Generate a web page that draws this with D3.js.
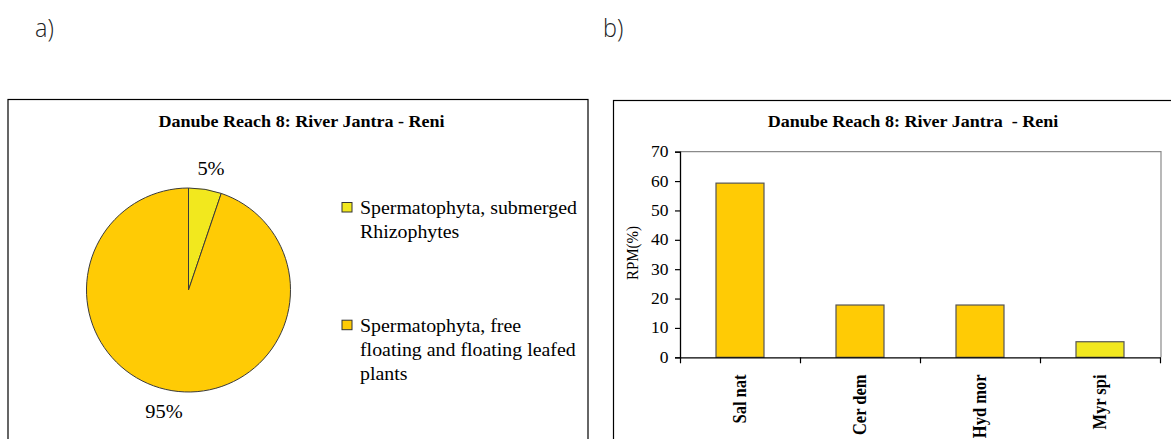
<!DOCTYPE html>
<html><head><meta charset="utf-8">
<script src="https://cdn.jsdelivr.net/npm/d3@7"></script>
<style>
html,body{margin:0;padding:0;background:#fff;}
svg{display:block;}
text{font-family:"Liberation Serif","Times New Roman",serif;fill:#000;}
</style></head>
<body>
<svg id="c" width="1171" height="439"></svg>
<script>
// ---- data ----
const pieLabels = ["Spermatophyta, submerged Rhizophytes", "Spermatophyta, free floating and floating leafed plants"];
const pieLegendLines = [["Spermatophyta, submerged", "Rhizophytes"], ["Spermatophyta, free", "floating and floating leafed", "plants"]];
const pieValues = [5.2, 94.8];
const pieColors = ["#F2E81E", "#FFCB05"];
const categories = ["Sal nat", "Cer dem", "Hyd mor", "Myr spi"];
const barValues = [59.3, 17.8, 17.8, 5.3];
const barColors = ["#FFCB05", "#FFCB05", "#FFCB05", "#F2E81E"];
const yTicks = [0, 10, 20, 30, 40, 50, 60, 70];
const titleA = "Danube Reach 8: River Jantra - Reni";
const titleB = "Danube Reach 8: River Jantra  - Reni";

const SX = 1.08; // horizontal stretch of the scanned text
const svg = d3.select("#c");
function txt(g, x, y, s, opts = {}) {
  const t = g.append("text")
    .attr("transform", `translate(${x},${y}) scale(${opts.sx || SX},1)` + (opts.rotate ? ` rotate(${opts.rotate})` : ""))
    .attr("text-anchor", opts.anchor || "start")
    .style("font-size", (opts.size || 15) + "px")
    .style("font-weight", opts.bold ? "bold" : "normal")
    .style("white-space", "pre")
    .text(s);
  if (opts.family) t.style("font-family", opts.family);
  if (opts.fill) t.style("fill", opts.fill);
  return t;
}

// panel letters
txt(svg, 35, 37, "a)", {size: 26, sx: 0.9, family: "'Open Sans', sans-serif", fill: "#222"}).style("font-weight", 300);
txt(svg, 603, 37, "b)", {size: 26, sx: 0.9, family: "'Open Sans', sans-serif", fill: "#222"}).style("font-weight", 300);

// ---- panel a ----
const gA = svg.append("g");
gA.append("rect").attr("x", 8).attr("y", 99.5).attr("width", 580).attr("height", 400)
  .attr("fill", "none").attr("stroke", "#000").attr("stroke-width", 1.2);
txt(gA, 301.5, 127, titleA, {size: 16.7, bold: true, anchor: "middle"});

const cx = 188.5, cy = 290, r = 102;
const pie = d3.pie().sort(null).value(d => d)(pieValues);
const arc = d3.arc().innerRadius(0).outerRadius(r);
const pg = gA.append("g").attr("transform", `translate(${cx},${cy})`);
pg.selectAll("path").data(pie).join("path")
  .attr("d", arc).attr("fill", (d, i) => pieColors[i])
  .attr("stroke", "#3a3a3a").attr("stroke-width", 1);

const total = d3.sum(pieValues);
const pctPos = [[211, 175], [164, 418]];
pie.forEach((d, i) => {
  txt(gA, pctPos[i][0], pctPos[i][1], Math.round(d.data / total * 100) + "%", {size: 18.9, anchor: "middle"});
});

// legend
const legY = [[214, 237.7], [331.7, 356.2, 380]];
pieLegendLines.forEach((lines, i) => {
  gA.append("rect").attr("x", 342).attr("y", legY[i][0] - 11.5).attr("width", 10).attr("height", 9.5)
    .attr("fill", pieColors[i]).attr("stroke", "#333").attr("stroke-width", 1);
  lines.forEach((l, j) => txt(gA, 360, legY[i][j], l, {size: 18.4}));
});

// ---- panel b ----
const gB = svg.append("g");
gB.append("rect").attr("x", 613.5).attr("y", 100.5).attr("width", 600).attr("height", 400)
  .attr("fill", "none").attr("stroke", "#000").attr("stroke-width", 1.2);
txt(gB, 913, 127, titleB, {size: 16.7, bold: true, anchor: "middle"});

const pl = 680, pr = 1161, pt = 151.7, pb = 357.3;
const y = d3.scaleLinear().domain([0, 70]).range([pb, pt]);
const x = d3.scaleBand().domain(categories).range([pl, pl + 480]).paddingInner(0.6).paddingOuter(0.3);
const xb = d3.scaleLinear().domain([0, categories.length]).range([pl, pl + 480]);

// plot frame (top & right)
gB.append("path").attr("d", `M${pl},${pt}H${pr}V${pb}`).attr("fill", "none").attr("stroke", "#8a8a8a").attr("stroke-width", 1.2);

gB.selectAll("rect.bar").data(barValues).join("rect").attr("class", "bar")
  .attr("x", (d, i) => x(categories[i])).attr("width", x.bandwidth())
  .attr("y", d => y(d)).attr("height", d => y(0) - y(d))
  .attr("fill", (d, i) => barColors[i]).attr("stroke", "#555").attr("stroke-width", 1.2);

// y axis
const ya = gB.append("g").attr("transform", `translate(${pl},0)`)
  .call(d3.axisLeft(y).tickValues(yTicks).tickSize(5).tickPadding(0).tickFormat(() => ""));
ya.select(".domain").attr("stroke", "#000").attr("stroke-width", 1.3);
ya.selectAll(".tick line").attr("stroke", "#000").attr("stroke-width", 1.2);
yTicks.forEach(t => txt(gB, 668.5, y(t) + 5.5, String(t), {size: 16.2, anchor: "end"}));
txt(gB, 637.5, 253, "RPM(%)", {size: 15, anchor: "middle", rotate: -90});

// x axis
const xa = gB.append("g").attr("transform", `translate(0,${pb})`)
  .call(d3.axisBottom(xb).tickValues(d3.range(categories.length + 1)).tickSize(6).tickSizeOuter(0).tickFormat(() => ""));
xa.select(".domain").attr("stroke", "#000").attr("stroke-width", 1.3);
xa.selectAll(".tick line").attr("stroke", "#000").attr("stroke-width", 1.2);
categories.forEach(c => txt(gB, x(c) + x.bandwidth() / 2 + 6, 374.5, c, {size: 16.5, bold: true, anchor: "end", rotate: -90}));
</script>
</body></html>
